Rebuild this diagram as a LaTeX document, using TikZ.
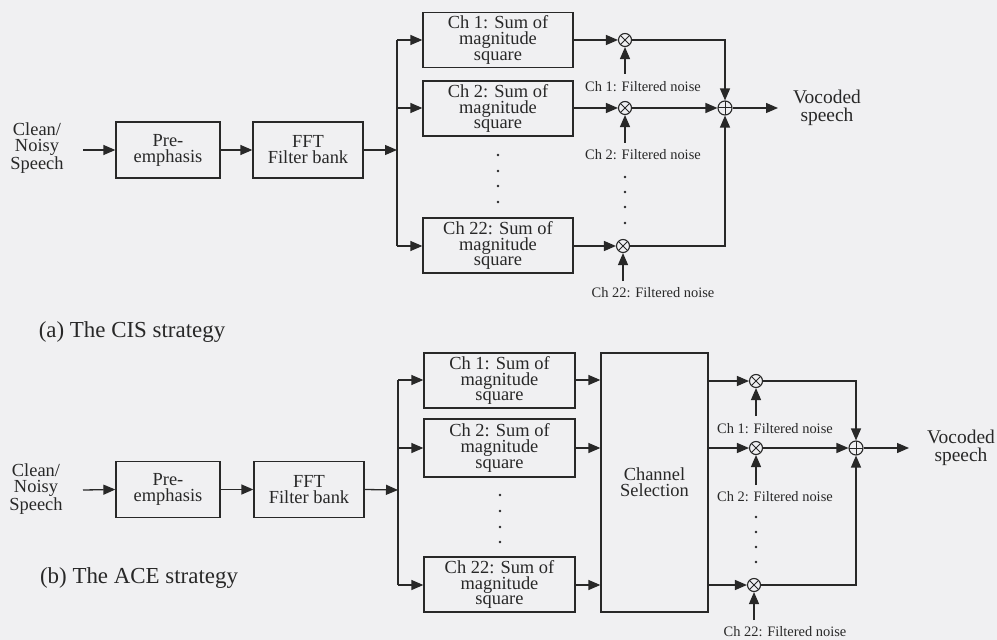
\documentclass[tikz,border=0pt]{standalone}
\usepackage{fontspec}
\setmainfont{Liberation Serif}
\usetikzlibrary{arrows.meta}
\definecolor{bg}{RGB}{240,240,242}
\definecolor{ink}{RGB}{40,40,40}
\begin{document}
\begin{tikzpicture}[x=1bp,y=-1bp,
  every node/.style={text=ink},
  box/.style={draw=ink,line width=1.3bp,inner sep=0pt,align=center,font=\fontsize{18.5}{16}\selectfont},
  lbl/.style={align=center,inner sep=0pt,font=\fontsize{18.5}{16.5}\selectfont},
  small/.style={inner sep=0pt,font=\fontsize{14.5}{15}\selectfont},
  captxt/.style={inner sep=0pt,font=\fontsize{23}{26}\selectfont},
  arr/.style={draw=ink,line width=1.3bp,-{Triangle[length=12bp,width=10bp]}},
  ln/.style={draw=ink,line width=1.3bp},
  mult/.style={circle,draw=ink,line width=1.1bp,minimum size=13bp,inner sep=0pt,
    path picture={\draw[ink,line width=1bp] (path picture bounding box.north west)--(path picture bounding box.south east) (path picture bounding box.north east)--(path picture bounding box.south west);}},
  add/.style={circle,draw=ink,line width=1.1bp,minimum size=14bp,inner sep=0pt,
    path picture={\draw[ink,line width=1bp] (path picture bounding box.north)--(path picture bounding box.south) (path picture bounding box.east)--(path picture bounding box.west);}},
  dot/.style={circle,fill=ink,inner sep=0pt,minimum size=2.8bp},
  pbox/.style={box,minimum width=104bp,minimum height=56bp},
  fbox/.style={box,minimum width=110bp,minimum height=56bp},
  cbox/.style={box,minimum width=150bp,minimum height=55bp}
]
\fill[bg] (0,0) rectangle (997,640);
\useasboundingbox (0,0) rectangle (997,640);

% ================= (a) CIS =================
\node[lbl] (srca) at (37,148) {Clean/\\Noisy\\Speech};
\coordinate (ina) at (83,150);
\node[pbox] (prea) at (168,150) {Pre-\\emphasis};
\node[fbox] (ffta) at (308,150) {FFT\\Filter bank};
\draw[arr] (ina) -- (prea.west);
\draw[arr] (prea.east) -- (ffta.west);
\coordinate (sa) at (397,150);
\coordinate (sa1) at (397,40);
\coordinate (sa2) at (397,108);
\coordinate (sa22) at (397,246);
\draw[arr] (ffta.east) -- (sa);
\draw[ln] (sa1) -- (sa22);

\node[cbox] (ch1a) at (498,40) {Ch 1: Sum of\\magnitude\\square};
\node[cbox] (ch2a) at (498,108.5) {Ch 2: Sum of\\magnitude\\square};
\node[cbox] (ch22a) at (498,245.5) {Ch 22: Sum of\\magnitude\\square};
\draw[arr] (sa1) -- (sa1 -| ch1a.west);
\draw[arr] (sa2) -- (sa2 -| ch2a.west);
\draw[arr] (sa22) -- (sa22 -| ch22a.west);

\node[dot] (da1) at (498,155) {};
\node[dot] (da2) at (498,171) {};
\node[dot] (da3) at (498,186) {};
\node[dot] (da4) at (498,202) {};

\node[mult] (m1a) at (625,40) {};
\node[mult] (m2a) at (625,108) {};
\node[mult] (m22a) at (623,246) {};
\draw[arr] (ch1a.east |- m1a) -- (m1a.west);
\draw[arr] (ch2a.east |- m2a) -- (m2a.west);
\draw[arr] (ch22a.east |- m22a) -- (m22a.west);

\coordinate (n1a) at (625,74);
\coordinate (n2a) at (625,143);
\coordinate (n22a) at (623,281);
\draw[arr] (n1a) -- (m1a.south);
\draw[arr] (n2a) -- (m2a.south);
\draw[arr] (n22a) -- (m22a.south);
\node[small] (l1a) at (643,87) {Ch 1: Filtered noise};
\node[small] (l2a) at (643,155) {Ch 2: Filtered noise};
\node[small] (l22a) at (653,292.5) {Ch 22: Filtered noise};

\node[dot] (ea1) at (625,177) {};
\node[dot] (ea2) at (625,192) {};
\node[dot] (ea3) at (625,207) {};
\node[dot] (ea4) at (625,223) {};

\node[add] (adda) at (725,108) {};
\draw[arr] (m1a.east) -| (adda.north);
\draw[arr] (m2a.east) -- (adda.west);
\draw[arr] (m22a.east) -| (adda.south);
\coordinate (oa) at (778,108);
\draw[arr] (adda.east) -- (oa);
\node[lbl,font=\fontsize{19.5}{18}\selectfont] (voca) at (827,108) {Vocoded\\speech};

\node[captxt] (capa) at (132,332) {(a) The CIS strategy};

% ================= (b) ACE =================
\node[lbl] (srcb) at (36,489) {Clean/\\Noisy\\Speech};
\coordinate (inb) at (83,490);
\node[pbox] (preb) at (168,489.5) {Pre-\\emphasis};
\node[fbox] (fftb) at (309,489.5) {FFT\\Filter bank};
\draw[arr] (inb) -- (preb.west);
\draw[arr] (preb.east) -- (fftb.west);
\coordinate (sb) at (398,490);
\coordinate (sb1) at (398,380);
\coordinate (sb2) at (398,448);
\coordinate (sb22) at (398,585);
\draw[arr] (fftb.east) -- (sb);
\draw[ln] (sb1) -- (sb22);

\node[cbox,minimum width=151bp] (ch1b) at (499.5,380.5) {Ch 1: Sum of\\magnitude\\square};
\node[cbox,minimum width=151bp,minimum height=58bp] (ch2b) at (499.5,448) {Ch 2: Sum of\\magnitude\\square};
\node[cbox,minimum width=151bp] (ch22b) at (499.5,584.5) {Ch 22: Sum of\\magnitude\\square};
\draw[arr] (sb1) -- (sb1 -| ch1b.west);
\draw[arr] (sb2) -- (sb2 -| ch2b.west);
\draw[arr] (sb22) -- (sb22 -| ch22b.west);

\node[dot] (db1) at (500,495) {};
\node[dot] (db2) at (500,511) {};
\node[dot] (db3) at (500,527) {};
\node[dot] (db4) at (500,542) {};

\node[box,minimum width=107bp,minimum height=259bp] (csb) at (654.5,482.5) {Channel\\Selection};
\draw[arr] (ch1b.east |- sb1) -- (csb.west |- sb1);
\draw[arr] (ch2b.east |- sb2) -- (csb.west |- sb2);
\draw[arr] (ch22b.east |- sb22) -- (csb.west |- sb22);

\node[mult] (m1b) at (756,381) {};
\node[mult] (m2b) at (756,448) {};
\node[mult] (m22b) at (754,585) {};
\draw[arr] (csb.east |- m1b) -- (m1b.west);
\draw[arr] (csb.east |- m2b) -- (m2b.west);
\draw[arr] (csb.east |- m22b) -- (m22b.west);

\coordinate (n1b) at (756,416);
\coordinate (n2b) at (756,485);
\coordinate (n22b) at (754,620);
\draw[arr] (n1b) -- (m1b.south);
\draw[arr] (n2b) -- (m2b.south);
\draw[arr] (n22b) -- (m22b.south);
\node[small] (l1b) at (775,428.5) {Ch 1: Filtered noise};
\node[small] (l2b) at (775,496.5) {Ch 2: Filtered noise};
\node[small] (l22b) at (785,632) {Ch 22: Filtered noise};

\node[dot] (eb1) at (756,517) {};
\node[dot] (eb2) at (756,532) {};
\node[dot] (eb3) at (756,547) {};
\node[dot] (eb4) at (756,562) {};

\node[add] (addb) at (856,448) {};
\draw[arr] (m1b.east) -| (addb.north);
\draw[arr] (m2b.east) -- (addb.west);
\draw[arr] (m22b.east) -| (addb.south);
\coordinate (ob) at (909,448);
\draw[arr] (addb.east) -- (ob);
\node[lbl,font=\fontsize{19.5}{18}\selectfont] (vocb) at (961,448) {Vocoded\\speech};

\node[captxt] (capb) at (139,578) {(b) The ACE strategy};
\end{tikzpicture}
\end{document}
